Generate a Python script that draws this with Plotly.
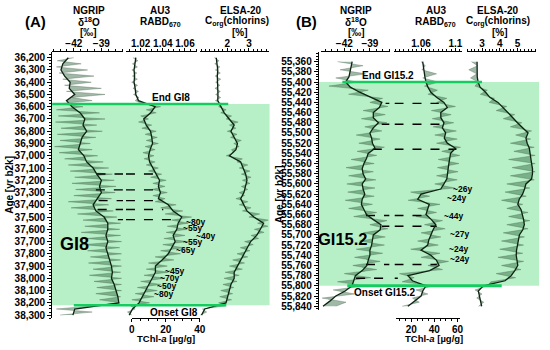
import plotly.graph_objects as go

W, H = 550, 350
FONT = "Liberation Sans Narrow, Liberation Sans, Arial, sans-serif"

# ---------------- Panel A : GI8 ----------------
age_A_smooth = list(range(36200, 38301, 50))
ngrip_A_smooth = [-42.6, -43.2, -43.4, -43.0, -42.4, -42.5, -41.9, -42.8, -42.2, -41.3,
                  -40.8, -41.0, -40.6, -41.1, -41.3, -41.5, -40.9, -40.6, -39.9, -39.5,
                  -39.0, -39.2, -39.0, -39.5, -39.9, -39.6, -38.7, -38.3, -38.3, -38.5,
                  -38.3, -38.5, -38.3, -38.1, -37.9, -37.8, -37.9, -37.6, -37.4, -37.2,
                  -37.1, -41.9, -42.1]
au3_A_smooth = [1.0156, 1.0150, 1.0140, 1.0145, 1.0140, 1.0150, 1.0156, 1.0180, 1.0330, 1.0290,
                1.0227, 1.0250, 1.0289, 1.0300, 1.0307, 1.0285, 1.0271, 1.0280, 1.0307, 1.0340,
                1.0370, 1.0360, 1.0378, 1.0360, 1.0449, 1.0493, 1.0571, 1.0538, 1.0526, 1.0493,
                1.0511, 1.0482, 1.0449, 1.0393, 1.0333, 1.0333, 1.0304, 1.0274, 1.0244, 1.0215,
                1.0185, 1.0126, 1.0096]
elsa_A_smooth = [1.49, 1.52, 1.56, 1.54, 1.56, 1.55, 1.57, 1.56, 1.71, 1.86,
                 2.09, 2.32, 2.17, 2.32, 2.47, 2.40, 2.10, 2.62, 2.75, 2.85,
                 2.91, 2.85, 2.77, 2.62, 2.77, 2.91, 3.23, 3.68, 3.53, 3.36,
                 3.08, 2.92, 2.77, 2.62, 2.47, 2.32, 2.32, 2.17, 2.09, 2.01,
                 1.94, 0.96, 0.81]
age_A_raw = list(range(36200, 38301, 25))
ngrip_A_raw = [-42.0, -43.8, -41.2, -43.9, -40.5, -43.6, -39.8, -43.2, -40.1, -43.0,
               -39.0, -42.8, -38.6, -42.2, -40.0, -43.5, -41.0, -43.9, -39.2, -43.7,
               -38.6, -44.0, -39.5, -43.4, -38.9, -43.8, -39.6, -43.5, -40.2, -44.1,
               -40.0, -43.6, -39.4, -43.0, -38.8, -42.6, -38.2, -42.4, -37.8, -41.9,
               -37.6, -42.2, -37.4, -41.8, -37.5, -42.0, -37.9, -42.6, -38.2, -42.3,
               -37.7, -41.6, -37.3, -41.0, -36.9, -40.8, -37.0, -41.2, -36.9, -40.6,
               -36.8, -41.0, -37.0, -40.5, -36.8, -40.2, -36.9, -40.4, -36.8, -39.9,
               -36.9, -40.3, -36.8, -39.8, -36.8, -39.5, -36.8, -39.6, -36.9, -39.2,
               -37.0, -40.0, -43.9, -40.0, -43.5]
au3_A_raw = [1.0130, 1.0175, 1.0125, 1.0170, 1.0120, 1.0165, 1.0125, 1.0170, 1.0118, 1.0172,
             1.0130, 1.0180, 1.0135, 1.0185, 1.0150, 1.0210, 1.0380, 1.0250, 1.0340, 1.0200,
             1.0270, 1.0180, 1.0300, 1.0210, 1.0340, 1.0240, 1.0350, 1.0250, 1.0360, 1.0240,
             1.0330, 1.0220, 1.0320, 1.0230, 1.0330, 1.0250, 1.0360, 1.0270, 1.0390, 1.0290,
             1.0430, 1.0310, 1.0420, 1.0300, 1.0440, 1.0310, 1.0420, 1.0330, 1.0520, 1.0380,
             1.0580, 1.0420, 1.0660, 1.0480, 1.0630, 1.0440, 1.0620, 1.0430, 1.0600, 1.0410,
             1.0620, 1.0400, 1.0590, 1.0380, 1.0560, 1.0330, 1.0500, 1.0270, 1.0440, 1.0250,
             1.0450, 1.0230, 1.0420, 1.0200, 1.0380, 1.0170, 1.0350, 1.0150, 1.0320, 1.0120,
             1.0280, 1.0110, 1.0150, 1.0080, 1.0120]
elsa_A_raw = [1.40, 1.62, 1.42, 1.66, 1.45, 1.68, 1.44, 1.70, 1.46, 1.66,
              1.43, 1.68, 1.46, 1.70, 1.45, 1.72, 1.60, 1.95, 1.70, 2.20,
              1.95, 2.50, 2.10, 2.40, 2.00, 2.45, 2.15, 2.65, 2.30, 2.55,
              2.20, 2.30, 1.95, 2.70, 2.45, 2.95, 2.55, 3.05, 2.65, 3.10,
              2.70, 3.05, 2.65, 2.95, 2.55, 2.80, 2.40, 2.95, 2.55, 3.10,
              2.70, 3.50, 3.00, 3.90, 3.40, 3.88, 3.25, 3.70, 3.10, 3.45,
              2.80, 3.20, 2.60, 3.05, 2.45, 2.95, 2.25, 2.80, 2.10, 2.70,
              1.90, 2.55, 1.85, 2.45, 1.80, 2.30, 1.70, 2.25, 1.65, 2.20,
              1.60, 1.90, 0.85, 1.05, 0.75]
gi8_zone = [36578, 38220]
tie_age_A = [37149, 37278, 37366, 37438, 37521]
tie_ngrip_A = [-39.53, -39.6, -39.3, -39.4, -37.2]
tie_au3_A = [1.0320, 1.0351, 1.0387, 1.0404, 1.0502]
dur_A_text = ["~80y", "~55y", "~40y", "~55y", "~65y", "~45y", "~70y", "~50y", "~80y"]
dur_A_age = [37538, 37591, 37652, 37704, 37769, 37940, 38000, 38065, 38130]
dur_A_au3 = [1.0591, 1.0564, 1.0680, 1.0564, 1.0502, 1.0404, 1.0360, 1.0333, 1.0298]

# ---------------- Panel B : GI15.2 ----------------
age_B_smooth = list(range(55360, 55841, 10))
ngrip_B_smooth = [-41.08, -41.2, -41.27, -41.46, -41.85, -41.3, -40.2, -38.9, -37.6, -37.9,
                  -38.6, -38.6, -38.0, -38.6, -39.0, -38.8, -38.7, -38.4, -39.2, -39.4,
                  -39.7, -39.9, -39.8, -39.5, -39.9, -39.8, -39.6, -39.9, -40.0, -39.7,
                  -39.4, -38.6, -37.7, -37.8, -38.6, -38.7, -38.8, -39.0, -39.0, -39.2,
                  -39.35, -39.9, -40.7, -40.9, -41.1, -41.9, -43.0, -43.7, -44.5]
au3_B_smooth = [1.0619, 1.0625, 1.0638, 1.0645, 1.0657, 1.0680, 1.0714, 1.0780, 1.0866, 1.0905,
                1.0829, 1.0830, 1.0866, 1.0848, 1.0886, 1.0870, 1.0905, 1.1000, 1.0943, 1.0930,
                1.0923, 1.0915, 1.0905, 1.0900, 1.0866, 1.0829, 1.0600, 1.0562, 1.0695, 1.0680,
                1.0657, 1.0720, 1.0771, 1.0740, 1.0714, 1.0690, 1.0677, 1.0600, 1.0714, 1.0780,
                1.0809, 1.0700, 1.0448, 1.0500, 1.0657, 1.0620, 1.0600, 1.0523, 1.0448]
elsa_B_smooth = [2.72, 2.72, 2.73, 2.73, 2.78, 2.89, 3.20, 3.44, 3.90, 4.18,
                 4.50, 4.74, 5.00, 5.29, 5.60, 5.48, 5.55, 5.67, 5.70, 5.76,
                 5.80, 5.85, 5.85, 5.80, 5.48, 5.40, 5.29, 5.10, 5.02, 5.20,
                 5.29, 5.35, 5.39, 5.30, 5.11, 5.05, 5.02, 4.95, 4.93, 4.98,
                 5.02, 4.85, 4.65, 4.30, 3.07, 2.79, 2.85, 2.90, 2.98]
age_B_raw = list(range(55360, 55841, 8))
ngrip_B_raw = [-42.8, -39.8, -42.5, -39.5, -43.0, -40.5, -43.8, -39.2, -41.5, -37.5,
               -39.0, -36.9, -39.8, -37.2, -40.0, -37.0, -39.6, -37.6, -40.6, -37.8,
               -40.3, -37.3, -40.5, -38.2, -41.2, -38.5, -41.8, -38.6, -41.5, -38.3,
               -41.7, -38.4, -41.6, -38.5, -41.9, -38.7, -41.5, -38.2, -40.9, -37.0,
               -39.0, -36.9, -39.8, -37.2, -40.2, -37.3, -40.6, -37.5, -40.8, -37.8,
               -41.0, -38.2, -42.0, -38.9, -42.8, -39.6, -43.3, -40.8, -44.6, -41.8,
               -43.0]
au3_B_raw = [1.0600, 1.0650, 1.0610, 1.0780, 1.0620, 1.0800, 1.0640, 1.0790, 1.0680, 1.0900,
             1.0780, 1.1000, 1.0720, 1.0950, 1.0730, 1.0980, 1.0740, 1.1010, 1.0760, 1.1020,
             1.0780, 1.1060, 1.0840, 1.1050, 1.0800, 1.1040, 1.0790, 1.1030, 1.0780, 1.1020,
             1.0760, 1.0990, 1.0480, 1.0700, 1.0450, 1.0820, 1.0560, 1.0780, 1.0540, 1.0850,
             1.0640, 1.0880, 1.0600, 1.0830, 1.0560, 1.0800, 1.0480, 1.0820, 1.0600, 1.0920,
             1.0680, 1.0850, 1.0350, 1.0520, 1.0380, 1.0750, 1.0540, 1.0680, 1.0500, 1.0580,
             1.0380]
elsa_B_raw = [2.40, 2.75, 2.25, 2.70, 2.35, 2.80, 2.60, 3.30, 2.90, 3.70,
              3.40, 4.40, 3.80, 4.85, 4.20, 5.25, 4.60, 5.80, 4.90, 5.75,
              4.60, 5.95, 4.80, 6.00, 4.50, 6.00, 4.70, 6.00, 4.60, 5.95,
              4.40, 5.70, 4.30, 5.50, 4.10, 5.30, 4.40, 5.60, 4.50, 5.70,
              4.40, 5.60, 4.20, 5.40, 4.10, 5.35, 4.00, 5.30, 3.90, 5.35,
              4.10, 5.20, 3.80, 4.90, 3.50, 3.30, 2.60, 3.00, 2.70, 3.10,
              2.80]
gi15_zone = [55400, 55800]
tie_age_B = [55442, 55483, 55532, 55662, 55683, 55758, 55785]
tie_ngrip_B = [-37.16, -37.62, -38.66, -39.46, -37.6, -39.46, -40.62]
tie_au3_B = [1.0806, 1.0886, 1.1011, 1.0646, 1.0783, 1.0783, 1.0330]
dur_B_text = ["~26y", "~24y", "~44y", "~27y", "~24y", "~24y"]
dur_B_age = [55610, 55628, 55662, 55698, 55728, 55747]
dur_B_au3 = [1.0943, 1.0874, 1.0840, 1.0909, 1.0897, 1.0909]

for a, b in [(age_A_smooth, ngrip_A_smooth), (age_A_smooth, au3_A_smooth), (age_A_smooth, elsa_A_smooth),
             (age_A_raw, ngrip_A_raw), (age_A_raw, au3_A_raw), (age_A_raw, elsa_A_raw),
             (age_B_smooth, ngrip_B_smooth), (age_B_smooth, au3_B_smooth), (age_B_smooth, elsa_B_smooth),
             (age_B_raw, ngrip_B_raw), (age_B_raw, au3_B_raw), (age_B_raw, elsa_B_raw)]:
    assert len(a) == len(b), (len(a), len(b))

# ---------------- layout helpers ----------------
def xd(a, b):
    return [a / W, b / W]

def yd(top, bottom):
    return [1 - bottom / H, 1 - top / H]

def px(x):
    return x / W

def py(y):
    return 1 - y / H

ZONE = "rgb(183,239,199)"
ZLINE = "rgb(20,205,95)"
FILL = "rgba(45,100,60,0.45)"
RAWLINE = "rgba(70,95,75,0.55)"
SMOOTH = "rgb(12,35,18)"

fig = go.Figure()

columns = [
    ("x", "y", age_A_smooth, ngrip_A_smooth, age_A_raw, ngrip_A_raw),
    ("x2", "y", age_A_smooth, au3_A_smooth, age_A_raw, au3_A_raw),
    ("x3", "y", age_A_smooth, elsa_A_smooth, age_A_raw, elsa_A_raw),
    ("x5", "y2", age_B_smooth, ngrip_B_smooth, age_B_raw, ngrip_B_raw),
    ("x6", "y2", age_B_smooth, au3_B_smooth, age_B_raw, au3_B_raw),
    ("x7", "y2", age_B_smooth, elsa_B_smooth, age_B_raw, elsa_B_raw),
]

for xa, ya, ags, sm, agr, rw in columns:
    fig.add_trace(go.Scatter(x=sm, y=ags, xaxis=xa, yaxis=ya, mode="lines",
                             line=dict(width=0, color=SMOOTH), hoverinfo="skip"))
    fig.add_trace(go.Scatter(x=rw, y=agr, xaxis=xa, yaxis=ya, mode="lines",
                             line=dict(width=0.6, color=RAWLINE), fill="tonextx",
                             fillcolor=FILL, hoverinfo="skip"))

def add_ties(ages, ng, au, xa_ng, xa_au, ya, ng_max, au_min):
    for a, n, u in zip(ages, ng, au):
        fig.add_trace(go.Scatter(x=[n, ng_max], y=[a, a], xaxis=xa_ng, yaxis=ya, mode="lines",
                                 line=dict(color="black", width=1.4, dash="dash"), hoverinfo="skip"))
        fig.add_trace(go.Scatter(x=[au_min, u], y=[a, a], xaxis=xa_au, yaxis=ya, mode="lines",
                                 line=dict(color="black", width=1.4, dash="dash"), hoverinfo="skip"))

axA_ng = ((50, 122), [-44.358, -36.641])
axA_au = ((125, 197), [1.00667, 1.07067])
axA_el = ((200, 270), [0.727, 3.909])
axB_ng = ((323, 393), [-44.768, -36.694])
axB_au = ((398, 467), [1.02914, 1.108])
axB_el = ((472, 542), [2.1667, 6.0556])

add_ties(tie_age_A, tie_ngrip_A, tie_au3_A, "x", "x2", "y", axA_ng[1][1], axA_au[1][0])
add_ties(tie_age_B, tie_ngrip_B, tie_au3_B, "x5", "x6", "y2", axB_ng[1][1], axB_au[1][0])

for xa, ya, ags, sm, agr, rw in columns:
    fig.add_trace(go.Scatter(x=sm, y=ags, xaxis=xa, yaxis=ya, mode="lines",
                             line=dict(width=1.3, color=SMOOTH), hoverinfo="skip"))

fig.add_trace(go.Scatter(x=[], y=[], xaxis="x4", yaxis="y", hoverinfo="skip"))
fig.add_trace(go.Scatter(x=[], y=[], xaxis="x8", yaxis="y2", hoverinfo="skip"))

tickfont = dict(family=FONT, size=10, color="black", weight="bold")

def minor(tick0, mdtick):
    return dict(ticks="outside", ticklen=2, tickwidth=1, tickcolor="black",
                tickmode="linear", tick0=tick0, dtick=mdtick, showgrid=False)

def top_axis(dom, rng, anchor, tickvals, ticktext, tick0, mdtick):
    return dict(domain=xd(*dom), range=rng, side="top", anchor=anchor, showline=True,
                linecolor="black", linewidth=1, ticks="outside", ticklen=3, tickwidth=1,
                tickcolor="black", tickfont=tickfont, showgrid=False, zeroline=False,
                fixedrange=True, tickmode="array", tickvals=tickvals, ticktext=ticktext,
                ticklabelstandoff=-3, minor=minor(tick0, mdtick))

def bottom_axis(dom, rng, tick0, dtick, mdtick, pos_px):
    return dict(domain=xd(*dom), range=rng, side="bottom", anchor="free", position=py(pos_px),
                showline=True, linecolor="black", linewidth=1, ticks="outside", ticklen=3,
                tickwidth=1, tickcolor="black", tickfont=tickfont, showgrid=False,
                zeroline=False, tickmode="linear", tick0=tick0, dtick=dtick, fixedrange=True,
                ticklabelstandoff=-1, minor=minor(tick0, mdtick))

def y_axis(dom_px, rng, pos_px, tick0, dtick, mdtick):
    return dict(domain=yd(*dom_px), range=rng, anchor="free", position=px(pos_px),
                showline=True, linecolor="black", linewidth=1, ticks="outside", ticklen=4,
                tickwidth=1, tickcolor="black", tickfont=tickfont, tickformat=",d",
                tickmode="linear", tick0=tick0, dtick=dtick, showgrid=False, zeroline=False,
                fixedrange=True, minor=minor(tick0, mdtick))

shapes = [
    dict(type="rect", xref="paper", yref="y", x0=px(49), x1=px(271), y0=gi8_zone[0], y1=gi8_zone[1],
         fillcolor=ZONE, line=dict(width=0), layer="below"),
    dict(type="rect", xref="paper", yref="y2", x0=px(320), x1=px(545), y0=gi15_zone[0], y1=gi15_zone[1],
         fillcolor=ZONE, line=dict(width=0), layer="below"),
    dict(type="line", xref="paper", yref="y", x0=px(50), x1=px(229), y0=gi8_zone[0], y1=gi8_zone[0],
         line=dict(color=ZLINE, width=2.5)),
    dict(type="line", xref="paper", yref="y", x0=px(72), x1=px(227), y0=gi8_zone[1], y1=gi8_zone[1],
         line=dict(color=ZLINE, width=2.5)),
    dict(type="line", xref="paper", yref="y2", x0=px(345), x1=px(487), y0=gi15_zone[0], y1=gi15_zone[0],
         line=dict(color=ZLINE, width=2.5)),
    dict(type="line", xref="paper", yref="y2", x0=px(350), x1=px(507), y0=gi15_zone[1], y1=gi15_zone[1],
         line=dict(color=ZLINE, width=3)),
]

def T(text, x, y, size=10, **kw):
    d = dict(text=text, x=px(x), y=py(y), xref="paper", yref="paper", showarrow=False,
             font=dict(family=FONT, size=size, color="black", weight="bold"),
             xanchor="center", yanchor="middle")
    d.update(kw)
    return d

ann = [
    T("(A)", 33, 22, 15), T("(B)", 309, 22, 15),
    T("NGRIP", 87, 11), T("δ<sup>18</sup>O", 87, 22), T("[‰]", 87, 33),
    T("AU3", 160, 11), T("RABD<sub>670</sub>", 160, 22),
    T("ELSA-20", 242, 11), T("C<sub>org</sub>(chlorins)", 238, 22), T("[%]", 241, 33),
    T("NGRIP", 359, 11), T("δ<sup>18</sup>O", 359, 22), T("[‰]", 359, 33),
    T("AU3", 440, 11), T("RABD<sub>670</sub>", 440, 22),
    T("ELSA-20", 503, 11), T("C<sub>org</sub>(chlorins)", 503, 22), T("[%]", 505, 33),
    T("Age [yr b2k]", 7, 186, 10, textangle=-90), T("Age [yr b2k]", 281, 195, 10, textangle=-90),
    T("GI8", 73, 245, 18), T("GI15.2", 346, 240, 16.5),
    T("End GI8", 171, 98), T("Onset GI8", 174, 314),
    T("End GI15.2", 391, 76), T("Onset GI15.2", 388, 294),
    T("TChl-<i>a</i> [µg/g]", 166, 340, 9.5), T("TChl-<i>a</i> [µg/g]", 438, 340, 9.5),
]
for t, a, v in zip(dur_A_text, dur_A_age, dur_A_au3):
    ann.append(dict(text=t, x=v, y=a, xref="x2", yref="y", showarrow=False, xanchor="left",
                    yanchor="middle", font=dict(family=FONT, size=8.5, color="black", weight="bold")))
for t, a, v in zip(dur_B_text, dur_B_age, dur_B_au3):
    ann.append(dict(text=t, x=v, y=a, xref="x6", yref="y2", showarrow=False, xanchor="left",
                    yanchor="middle", font=dict(family=FONT, size=8.5, color="black", weight="bold")))

fig.update_layout(
    width=W, height=H, margin=dict(l=0, r=0, t=0, b=0), autosize=False,
    paper_bgcolor="white", plot_bgcolor="rgba(0,0,0,0)", showlegend=False,
    xaxis=top_axis(axA_ng[0], axA_ng[1], "y", [-42, -39], ["−42", "−39"], -42, 0.75),
    xaxis2=top_axis(axA_au[0], axA_au[1], "y", [1.02, 1.04, 1.06], ["1.02", "1.04", "1.06"], 1.02, 0.005),
    xaxis3=top_axis(axA_el[0], axA_el[1], "y", [2, 3], ["2", "3"], 2, 0.2),
    xaxis4=bottom_axis((131, 200), [0, 40], 0, 20, 5, 320),
    xaxis5=top_axis(axB_ng[0], axB_ng[1], "y2", [-42, -39], ["−42", "−39"], -42, 0.75),
    xaxis6=top_axis(axB_au[0], axB_au[1], "y2", [1.06, 1.1], ["1.06", "1.1"], 1.06, 0.005),
    xaxis7=top_axis(axB_el[0], axB_el[1], "y2", [3, 4, 5], ["3", "4", "5"], 3, 0.2),
    xaxis8=bottom_axis((400, 465), [7.2, 62.5], 0, 20, 5, 320),
    yaxis=y_axis((52, 320), [38325, 36151], 49, 36200, 100, 25),
    yaxis2=y_axis((52, 312), [55847.8, 55340.5], 320, 55360, 20, 5),
    shapes=shapes, annotations=ann,
)

fig.write_html("out.html", config={"displayModeBar": False},
               post_script="document.body.style.margin='0';document.body.style.overflow='hidden';")
